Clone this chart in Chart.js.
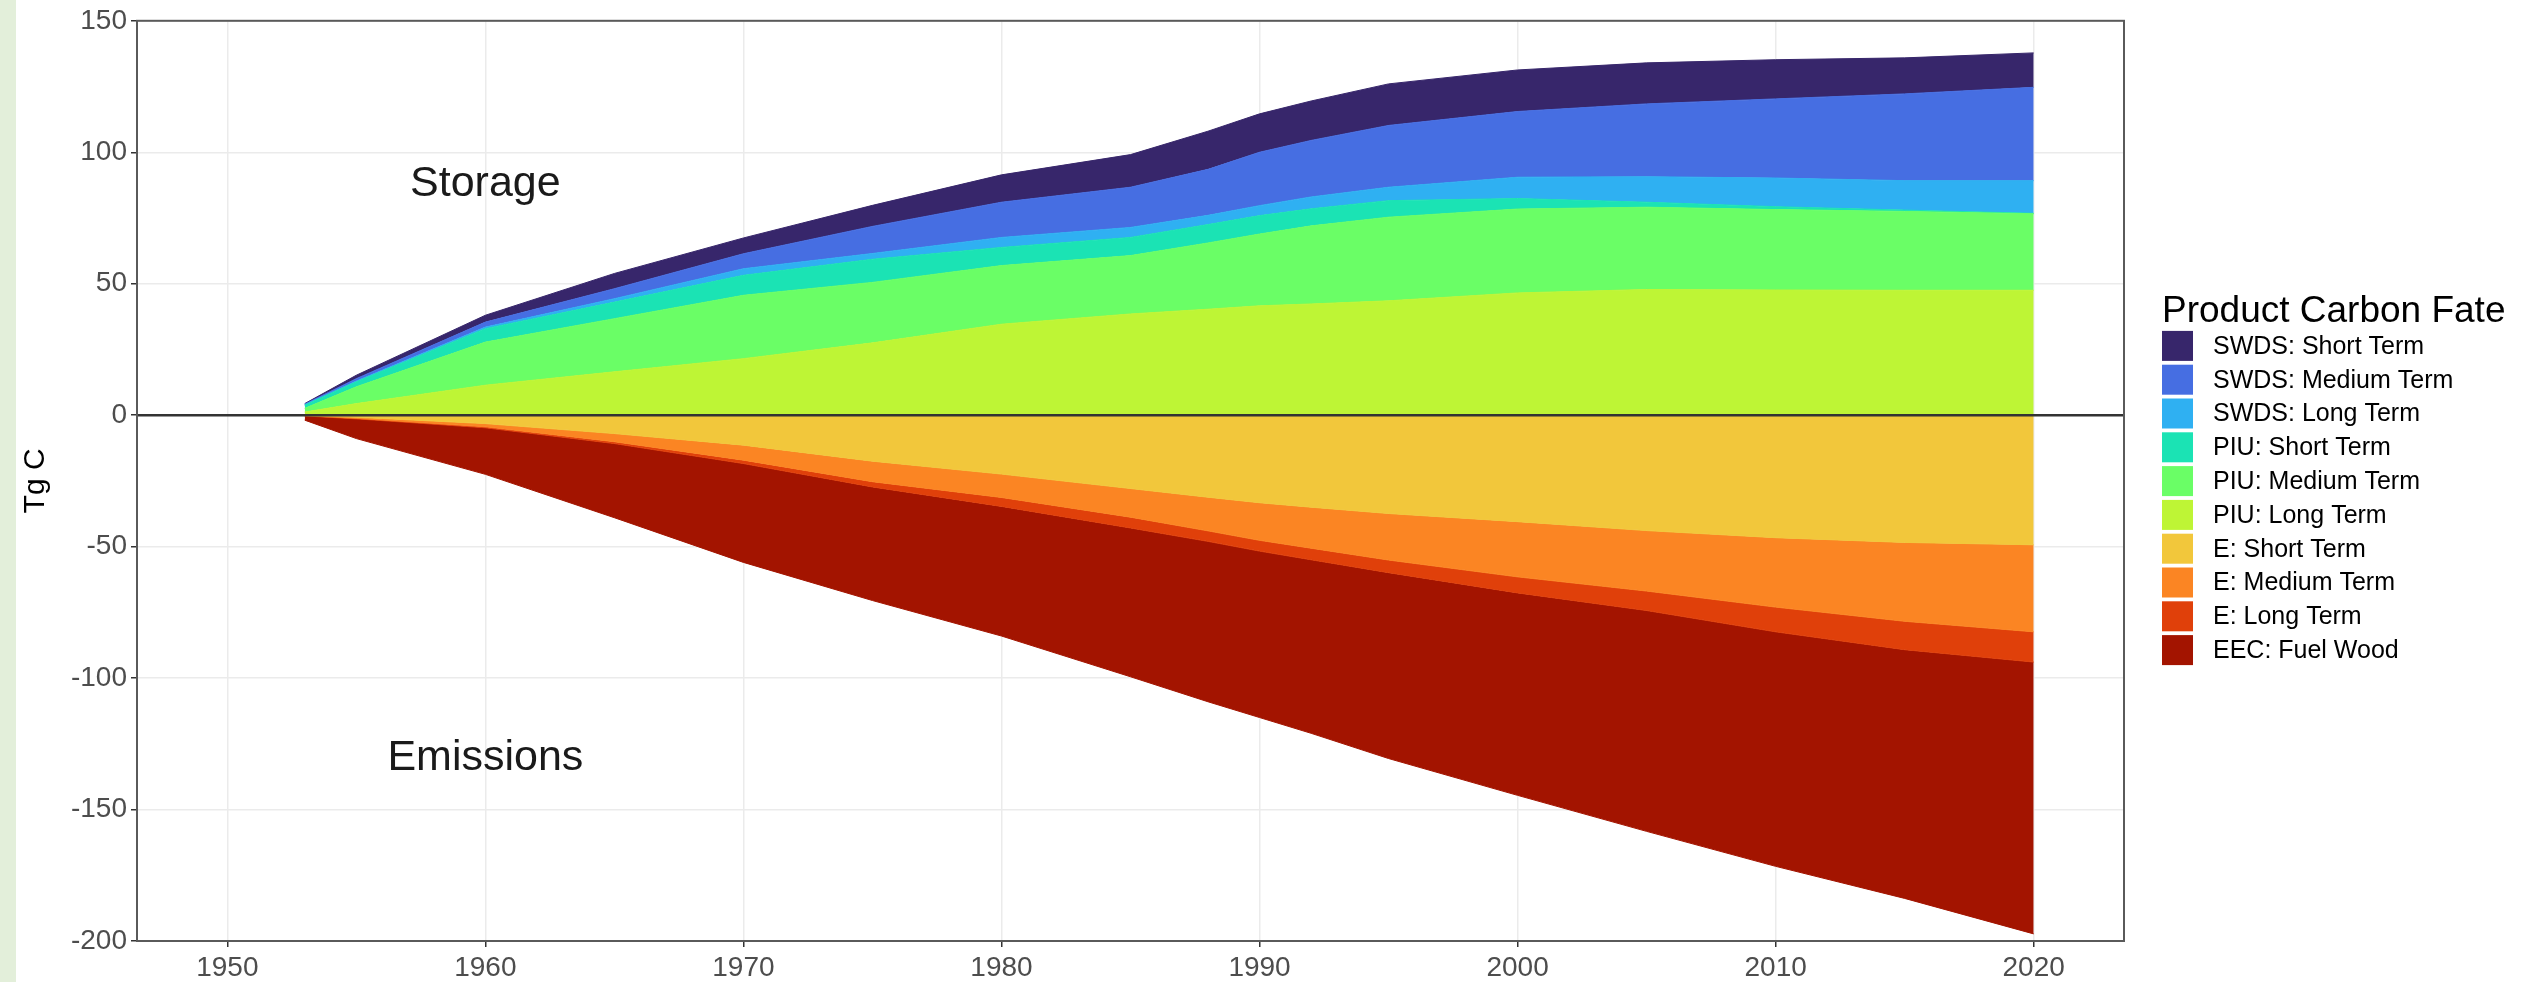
<!DOCTYPE html>
<html>
<head>
<meta charset="utf-8">
<script src="https://cdn.jsdelivr.net/npm/chart.js@4.4.1/dist/chart.umd.min.js"></script>
<style>
  html, body { margin: 0; padding: 0; background: #fff; }
  canvas { display: block; }
</style>
</head>
<body>
<canvas id="myChart" width="2537" height="982"></canvas>
<script>
// years
const years = [1953, 1955, 1960, 1965, 1970, 1975, 1980, 1985, 1988, 1990, 1992, 1995, 2000, 2005, 2010, 2015, 2020];

// storage side (Tg C), stacked from the zero line up
const piuLong    = [1.2, 4.4, 11.4, 16.5, 21.5, 27.5, 34.6, 38.5, 40.3, 41.6, 42.3, 43.5, 46.5, 47.8, 47.6, 47.5, 47.5];
const piuMedium  = [1.4, 6.4, 16.4, 20.2, 24.1, 23.0, 22.3, 22.2, 25.2, 27.3, 29.7, 31.8, 31.9, 31.3, 30.6, 30.0, 29.1];
const piuShort   = [1.2, 1.9, 5.1, 6.3, 7.6, 8.8, 6.9, 6.9, 7.0, 7.0, 6.5, 6.3, 4.0, 1.9, 1.1, 0.5, 0.2];
const swdsLong   = [0.2, 0.3, 0.6, 1.3, 2.5, 2.2, 3.8, 3.8, 3.5, 3.8, 4.5, 5.1, 8.1, 9.7, 10.9, 11.2, 12.4];
const swdsMedium = [0.2, 0.9, 1.9, 3.8, 5.7, 10.3, 13.4, 15.3, 17.5, 20.3, 21.5, 23.5, 25.0, 27.7, 30.1, 33.0, 35.5];
const swdsShort  = [0.2, 1.3, 2.6, 5.8, 6.0, 8.0, 10.4, 12.4, 14.5, 14.6, 15.0, 15.8, 15.8, 15.6, 14.9, 13.7, 13.1];

// emissions side (Tg C), stacked from the zero line down
const eShort    = [-0.1, -0.8, -3.2, -7.0, -11.4, -17.5, -22.4, -27.9, -31.2, -33.3, -35.0, -37.4, -40.5, -43.9, -46.6, -48.4, -49.3];
const eMedium   = [-0.1, -0.4, -1.2, -3.1, -5.7, -7.8, -8.9, -10.9, -12.8, -14.3, -15.6, -17.7, -21.0, -23.0, -26.4, -30.0, -33.1];
const eLong     = [-0.1, -0.2, -0.4, -0.7, -1.3, -2.0, -3.4, -4.1, -4.0, -4.1, -4.4, -4.8, -6.1, -7.4, -9.4, -10.8, -11.5];
const fuelWood  = [-1.6, -7.5, -17.7, -28.2, -37.6, -43.2, -49.3, -56.6, -61.0, -63.3, -66.0, -70.7, -77.0, -84.0, -89.2, -94.6, -103.4];

const xTicks = [1950, 1960, 1970, 1980, 1990, 2000, 2010, 2020];
const yTicks = [-200, -150, -100, -50, 0, 50, 100, 150];

const legendTitle = "Product Carbon Fate";
const legendOrder = ["SWDS: Short Term", "SWDS: Medium Term", "SWDS: Long Term",
                     "PIU: Short Term", "PIU: Medium Term", "PIU: Long Term",
                     "E: Short Term", "E: Medium Term", "E: Long Term", "EEC: Fuel Wood"];

const notes = [
  { text: "Storage", x: 1960, y: 88 },
  { text: "Emissions", x: 1960, y: -130.5 }
];

const FONT = '"Liberation Sans", Arial, sans-serif';

// dataset order = stacking order, fill goes to the layer below
function layer(label, values, color, fill) {
  return {
    label: label,
    data: values,
    backgroundColor: color,
    borderColor: color,
    borderWidth: 1,
    pointRadius: 0,
    tension: 0,
    fill: fill
  };
}

const datasets = [
  layer("PIU: Long Term", piuLong, "#bef535", "origin"),
  layer("PIU: Medium Term", piuMedium, "#6afe66", "-1"),
  layer("PIU: Short Term", piuShort, "#1be3b4", "-1"),
  layer("SWDS: Long Term", swdsLong, "#2fb0f2", "-1"),
  layer("SWDS: Medium Term", swdsMedium, "#466ee2", "-1"),
  layer("SWDS: Short Term", swdsShort, "#37266b", "-1"),
  layer("E: Short Term", eShort, "#f2c73b", "origin"),
  layer("E: Medium Term", eMedium, "#fb8523", "-1"),
  layer("E: Long Term", eLong, "#e0400a", "-1"),
  layer("EEC: Fuel Wood", fuelWood, "#a31400", "-1")
];

const extras = {
  id: 'extras',
  beforeDraw(chart) {
    const ctx = chart.ctx;
    ctx.save();
    ctx.fillStyle = '#ffffff';
    ctx.fillRect(0, 0, chart.width, chart.height);
    ctx.fillStyle = '#e3efda';   // page strip on the left
    ctx.fillRect(0, 0, 16, chart.height);
    ctx.restore();
  },
  afterDatasetsDraw(chart) {
    const ctx = chart.ctx;
    const a = chart.chartArea;
    const x = chart.scales.x, y = chart.scales.y;
    ctx.save();

    // zero line
    const y0 = y.getPixelForValue(0);
    ctx.strokeStyle = '#333333';
    ctx.lineWidth = 2.5;
    ctx.beginPath();
    ctx.moveTo(a.left, y0);
    ctx.lineTo(a.right, y0);
    ctx.stroke();

    // panel border
    ctx.strokeStyle = '#5a5a5a';
    ctx.lineWidth = 2;
    ctx.strokeRect(a.left, a.top, a.right - a.left, a.bottom - a.top);

    // Storage / Emissions labels
    ctx.fillStyle = '#1a1a1a';
    ctx.font = '43px ' + FONT;
    ctx.textAlign = 'center';
    ctx.textBaseline = 'middle';
    notes.forEach(n => ctx.fillText(n.text, x.getPixelForValue(n.x), y.getPixelForValue(n.y)));

    // legend
    const cy = (a.top + a.bottom) / 2;
    const lx = a.right + 38;
    ctx.textAlign = 'left';
    ctx.fillStyle = '#000';
    ctx.font = '37px ' + FONT;
    ctx.fillText(legendTitle, lx, cy - 169);
    ctx.font = '25px ' + FONT;
    legendOrder.forEach((name, i) => {
      const ds = chart.data.datasets.find(d => d.label === name);
      const top = cy - 150 + 33.8 * i;
      ctx.fillStyle = ds.backgroundColor;
      ctx.fillRect(lx, top, 31, 30);
      ctx.fillStyle = '#000';
      ctx.fillText(name, lx + 51, top + 16);
    });

    ctx.restore();
  }
};

new Chart("myChart", {
  type: "line",
  data: {
    labels: years,
    datasets: datasets
  },
  options: {
    responsive: false,
    animation: false,
    devicePixelRatio: 1,
    layout: { padding: { top: 18, right: 413, bottom: 0, left: 0 } },
    plugins: {
      legend: { display: false },
      tooltip: { enabled: false }
    },
    scales: {
      x: {
        type: 'linear',
        min: 1946.5,
        max: 2023.5,
        afterBuildTicks: s => { s.ticks = xTicks.map(v => ({ value: v })); },
        afterFit: s => { s.height = 41; },
        border: { display: false },
        grid: { color: '#ebebeb', lineWidth: 1.5, drawTicks: true, tickLength: 6, tickColor: '#333333', tickWidth: 1.5 },
        ticks: { color: '#4d4d4d', font: { family: FONT, size: 28 }, padding: 4, maxRotation: 0, callback: v => String(v) }
      },
      y: {
        stacked: true,
        min: -200,
        max: 150,
        afterBuildTicks: s => { s.ticks = yTicks.map(v => ({ value: v })); },
        afterFit: s => { s.width = 137; },
        border: { display: false },
        grid: { color: '#ebebeb', lineWidth: 1.5, drawTicks: true, tickLength: 6, tickColor: '#333333', tickWidth: 1.5 },
        ticks: { color: '#4d4d4d', font: { family: FONT, size: 28 }, padding: 4, callback: v => String(v) },
        title: { display: true, text: 'Tg C', color: '#000', font: { family: FONT, size: 30 }, padding: { top: 18, bottom: 0 } }
      }
    }
  },
  plugins: [extras]
});
</script>
</body>
</html>
